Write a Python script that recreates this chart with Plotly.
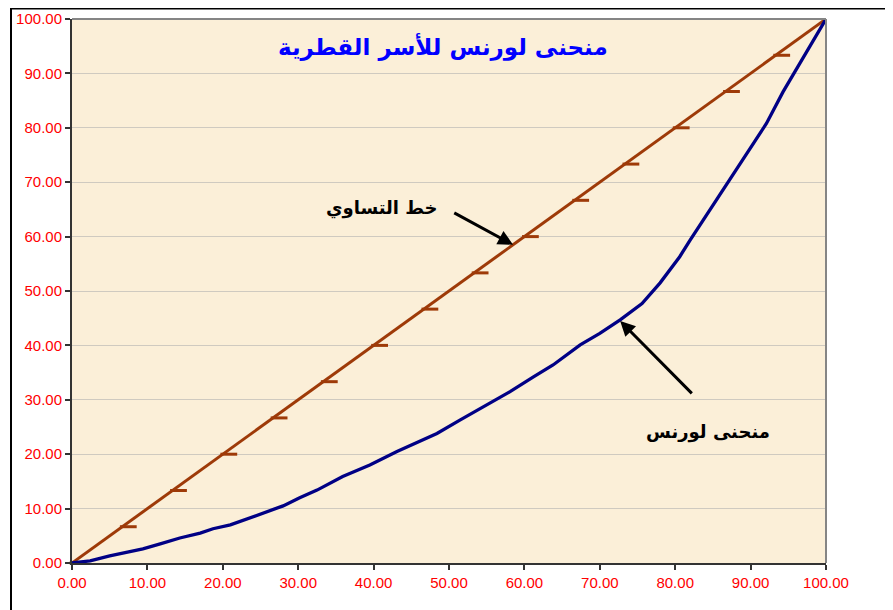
import plotly.graph_objects as go

# ---- data ----
equality_x = [0, 6.67, 13.33, 20, 26.67, 33.33, 40, 46.67, 53.33, 60, 66.67, 73.33, 80, 86.67, 93.33, 100]
equality_y = [0, 6.67, 13.33, 20, 26.67, 33.33, 40, 46.67, 53.33, 60, 66.67, 73.33, 80, 86.67, 93.33, 100]

lorenz_x = [0, 2.4, 5.0, 9.4, 11.7, 14.3, 17.0, 18.7, 21.0, 23.6, 25.9, 28.0, 30.2, 32.5, 35.9, 39.5,
            43.1, 48.4, 51.5, 54.5, 56.8, 58.1, 61.2, 63.8, 67.4, 70.0, 72.7, 75.6, 78.0, 80.6, 82.0,
            84.6, 87.3, 89.9, 92.1, 94.3, 96.6, 98.3, 100]
lorenz_y = [0, 0.4, 1.3, 2.6, 3.5, 4.6, 5.5, 6.3, 7.0, 8.3, 9.4, 10.5, 12.0, 13.4, 15.9, 18.0,
            20.5, 23.8, 26.3, 28.7, 30.6, 31.5, 34.2, 36.4, 40.1, 42.2, 44.7, 47.7, 51.5, 56.3, 59.4,
            64.9, 70.4, 75.9, 80.8, 86.6, 91.9, 96.1, 100]

tick_vals = [0, 10, 20, 30, 40, 50, 60, 70, 80, 90, 100]
tick_text = ["%.2f" % v for v in tick_vals]

title_text = "منحنى لورنس للأسر القطرية"
label_equality = "خط التساوي"
label_lorenz = "منحنى لورنس"

# ---- layout geometry (page body adds an 8px offset) ----
OFF = 8
W, H = 893 - OFF, 610 - OFF
ML, MR, MT, MB = 72 - OFF, 67, 19 - OFF, 47
PW = W - ML - MR
PH = H - MT - MB
px_per_x = PW / 100.0
dash_shift = 6 / px_per_x  # Excel dash marker sits to the right of the point

EQ_COLOR = "#9E3A08"
LZ_COLOR = "#000085"

fig = go.Figure()

fig.add_trace(go.Scatter(
    x=equality_x, y=equality_y, mode="lines",
    line=dict(color=EQ_COLOR, width=3), hoverinfo="skip", showlegend=False))
fig.add_trace(go.Scatter(
    x=[v + dash_shift for v in equality_x], y=equality_y, mode="markers",
    marker=dict(symbol="line-ew", size=12, line=dict(color=EQ_COLOR, width=3)),
    cliponaxis=False, hoverinfo="skip", showlegend=False))
fig.add_trace(go.Scatter(
    x=lorenz_x, y=lorenz_y, mode="lines",
    line=dict(color=LZ_COLOR, width=3.3), hoverinfo="skip", showlegend=False))

tickfont = dict(family="Liberation Sans, Arial, sans-serif", size=15, color="#FF0000")

fig.update_xaxes(
    range=[0, 100], tickvals=tick_vals, ticktext=tick_text, tickfont=tickfont,
    showgrid=False, zeroline=False, showline=True, linecolor="#333333", linewidth=2,
    ticks="outside", ticklen=5, tickwidth=1.5, tickcolor="#333333", automargin=False)
fig.update_yaxes(
    range=[0, 100], tickvals=tick_vals, ticktext=tick_text, tickfont=tickfont,
    showgrid=True, gridcolor="#CFCAC0", gridwidth=1, zeroline=False,
    showline=True, linecolor="#333333", linewidth=2,
    ticks="outside", ticklen=5, tickwidth=1.5, tickcolor="#333333", automargin=False)

shapes = [
    # top and right border of plot area (gray)
    dict(type="line", xref="paper", yref="paper", x0=0, x1=1, y0=1, y1=1,
         line=dict(color="#858585", width=2)),
    dict(type="line", xref="paper", yref="paper", x0=1, x1=1, y0=0, y1=1,
         line=dict(color="#858585", width=2)),
    # outer black frame
    dict(type="rect", xref="paper", yref="paper",
         x0=(11 - 72) / PW, x1=(W + 10 - ML) / PW,
         y0=-(MB + 10) / PH, y1=(MT - 0.5) / PH + 1,
         line=dict(color="#000000", width=2), layer="above"),
]

arabic = "DejaVu Sans, Noto Sans, sans-serif"
annotations = [
    dict(x=49.2, y=94.9, xref="x", yref="y", text="<b>" + title_text + "</b>", showarrow=False,
         font=dict(family=arabic, size=23, color="#0000FF")),
    dict(x=41.1, y=65.3, xref="x", yref="y", text="<b>" + label_equality + "</b>", showarrow=False,
         font=dict(family=arabic, size=18, color="#000000")),
    dict(x=84.4, y=24.1, xref="x", yref="y", text="<b>" + label_lorenz + "</b>", showarrow=False,
         font=dict(family=arabic, size=18, color="#000000")),
    dict(x=58.5, y=58.5, ax=50.5, ay=64.5, xref="x", yref="y", axref="x", ayref="y",
         text="", showarrow=True, arrowhead=2, arrowsize=1, arrowwidth=3, arrowcolor="#000000"),
    dict(x=72.7, y=44.5, ax=82.4, ay=30.9, xref="x", yref="y", axref="x", ayref="y",
         text="", showarrow=True, arrowhead=2, arrowsize=1, arrowwidth=3, arrowcolor="#000000"),
]

fig.update_layout(
    width=W, height=H,
    margin=dict(l=ML, r=MR, t=MT, b=MB, pad=0, autoexpand=False),
    paper_bgcolor="#FFFFFF", plot_bgcolor="#FBEFD8",
    shapes=shapes, annotations=annotations, showlegend=False,
)

fig.write_html("out.html")
